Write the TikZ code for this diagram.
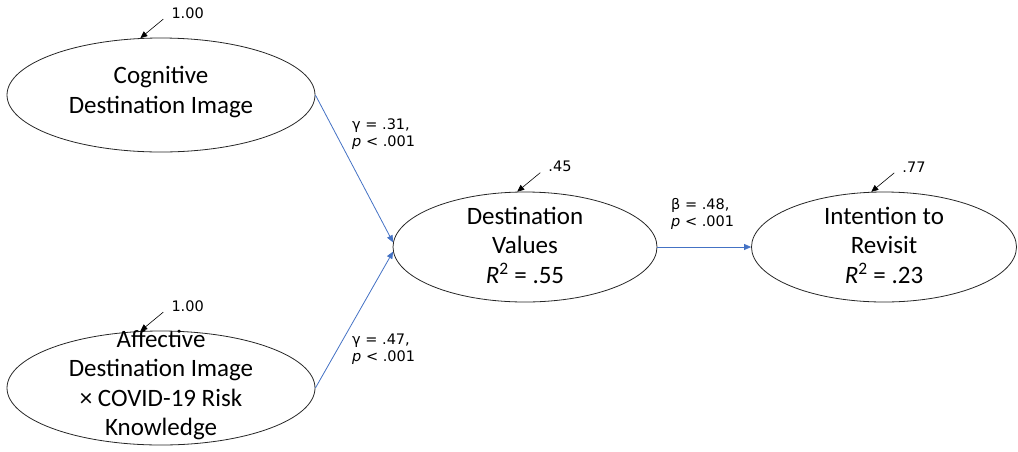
\documentclass[tikz,border=0pt]{standalone}
\usepackage{fontspec}
\setmainfont{Carlito}
\newfontfamily\coeffont{DejaVu Sans}
\usepackage{tikz}
\usetikzlibrary{shapes.geometric,arrows.meta}

\definecolor{pathblue}{RGB}{68,114,196}

\begin{document}
\begin{tikzpicture}[x=1pt,y=-1pt,
  latent/.style n args={2}{ellipse,draw=black!85,line width=0.8pt,minimum width=#1pt,minimum height=#2pt,inner sep=0pt},
  lbl/.style={align=center,font=\fontsize{25}{29.5}\selectfont,inner sep=0pt},
  coef/.style={align=left,font=\coeffont\fontsize{14.5}{17.5}\selectfont,inner sep=0pt},
  path/.style={draw=pathblue,line width=0.8pt,-{Triangle[length=7pt,width=6pt]}},
  errarrow/.style={draw=black,line width=0.6pt,-{Triangle[length=7pt,width=6pt]}}]
\useasboundingbox (0,0) rectangle (1018,451);

\node[latent={308}{114}] (cog) at (161,95) {};
\node[latent={308}{114}] (aff) at (161,388) {};
\node[latent={264}{110}] (dest) at (525,247) {};
\node[latent={265}{110}] (int) at (884,247) {};

\node[lbl] (cog-txt) at ([yshift=3]cog) {Cognitive\\Destination Image};
\node[lbl] (aff-txt) at ([yshift=3]aff) {Affective\\Destination Image\\× COVID-19 Risk\\Knowledge};
\node[lbl] (dest-txt) at ([yshift=2]dest) {Destination\\Values\\\textit{R}\textsuperscript{2} = .55};
\node[lbl] (int-txt) at ([yshift=2]int) {Intention to\\Revisit\\\textit{R}\textsuperscript{2} = .23};

% structural paths
\draw[path] (cog.east) -- (dest.178);
\draw[path] (aff.east) -- (dest.182);
\draw[path] (dest.east) -- (int.west);

\node[coef,anchor=west] (g1) at (352,134) {γ = .31,\\\textit{p} < .001};
\node[coef,anchor=west] (g2) at (352,349) {γ = .47,\\\textit{p} < .001};
\node[coef,anchor=west] (b1) at (671,214) {β = .48,\\\textit{p} < .001};

% residuals
\foreach \n/\v/\a in {cog/1.00/110,aff/1.00/110,dest/.45/98,int/.77/103} {
  \coordinate (\n-e) at ([shift={(23,-19)}]\n.\a);
  \draw[errarrow] (\n-e) -- (\n.\a);
  \node[coef,anchor=west] (\n-res) at ([shift={(8,-6)}]\n-e) {\v};
}
\end{tikzpicture}
\end{document}
